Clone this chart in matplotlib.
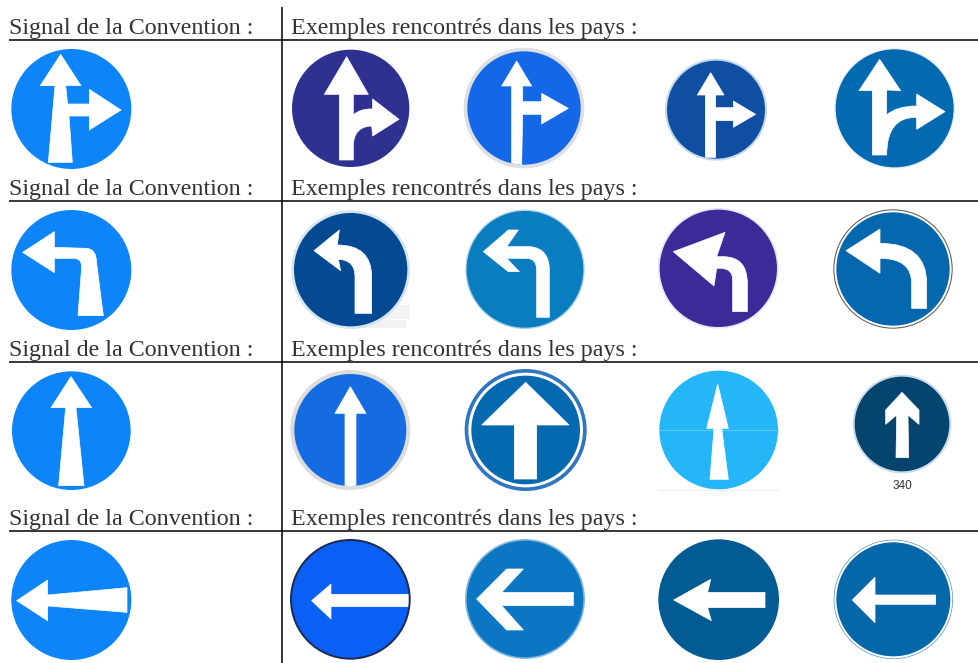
import matplotlib
matplotlib.use("Agg")
import matplotlib.pyplot as plt
from matplotlib.patches import Circle, PathPatch, Rectangle
from matplotlib.path import Path

LEFT_LABEL = "Signal de la Convention :"
RIGHT_LABEL = "Exemples rencontrés dans les pays :"
LABEL_BASELINES = [34, 194.7, 355.7, 525]
RULES_Y = [40, 201, 362, 530.7]
DIVIDER_X = 282
CODE_LABEL = "340"

Z1 = (0, 0)
Z2 = (490, 0)
Z3 = (0, 335)
Z4 = (490, 335)

# origin, centre, radius, fill, (ring colour, ring radius), (gap radius), arrow outline
ROW1 = [
    (Z1, (214, 327), 180, "#0d84f8", None, None,
     [(182,163),(243,257),(197,257),(203,312),(268,312),(268,268),(363,330),(268,390),(268,348),(207,348),(217,487),(145,487),(165,257),(121,257)]),
    (Z1, (1052, 325), 176, "#2e3190", None, None,
     [(1040,170),(1105,283),(1060,283),(1060,345),(1080,325,1118,327),(1118,297),(1197,358),(1118,408),(1115,378),(1060,380,1060,440),(1060,480),(1018,480),(1018,283),(973,283)]),
    (Z2, (102, 324), 170, "#1468e8", ("#dfdfe3", 181), None,
     [(80,183),(125,258),(98,258),(98,305),(155,305),(155,280),(235,325),(155,372),(155,343),(98,343),(95,495),(65,495),(65,258),(35,258)]),
    (Z2, (678, 329), 147, "#0f4ea0", ("#c4d8ee", 153), None,
     [(662,218),(702,285),(677,285),(677,323),(730,323),(730,303),(797,343),(730,382),(730,362),(677,362),(677,472),(646,472),(646,285),(622,285)]),
    (Z2, (1214, 325), 177, "#0369b0", ("#e6eef6", 181), None,
     [(1169,178),(1232,272),(1190,270),(1190,345),(1220,318,1280,318),(1280,282),(1365,335),(1280,388),(1280,352),(1190,350,1190,465),(1147,465),(1147,272),(1107,272)]),
]
ROW2 = [
    (Z1, (214, 810), 180, "#0d84f8", None, None,
     [(68,757),(163,695),(163,742),(260,745),(290,748,290,790),(310,947),(234,947),(245,800),(245,775,220,775),(163,775),(163,818)]),
    (Z1, (1052, 809), 170, "#034a92", ("#d6e4f2", 178), None,
     [(942,752),(1018,690),(1012,735),(1115,735,1115,830),(1115,940),(1065,940),(1065,830),(1065,780,1015,778),(1022,812)]),
    (Z2, (105, 808), 175, "#0a7cc0", ("#a8cfe6", 179), None,
     [(-20,755),(55,690),(85,690),(50,740),(120,740),(178,745,178,810),(178,952),(140,952),(140,810),(140,775,110,775),(50,775),(88,815),(55,815)]),
    (Z2, (685, 805), 176, "#3c2a98", ("#e6e4f6", 181), None,
     [(550,755),(705,697),(680,770),(700,770),(772,770,772,850),(772,935),(728,935),(728,840),(728,805,690,805),(680,805),(672,858)]),
    (Z2, (1209, 807), 170, "#0567ae", ("#555555", 179), 176,
     [(1068,752),(1170,687),(1170,730),(1310,730,1310,850),(1310,925),(1265,925),(1265,850),(1265,775,1170,775),(1170,820)]),
]
ROW3 = [
    (Z3, (214, 287), 178, "#0d84f8", None, None,
     [(213,125),(275,218),(228,218),(252,452),(176,452),(197,218),(153,218)]),
    (Z3, (1051, 285), 168, "#146ce0", ("#dcdcdc", 180), None,
     [(1051,155),(1098,235),(1068,235),(1068,460),(1035,460),(1035,235),(1005,235)]),
    (Z4, (107, 285), 163, "#0469ae", ("#2f75c0", 183), 172,
     [(107,142),(237,270),(140,270),(140,432),(73,432),(73,270),(-25,270)]),
    (Z4, (686, 285), 178, "#24b6f8", None, None,
     [(683,147),(715,280),(695,280),(715,433),(660,433),(672,280),(650,280)]),
    (Z4, (1236, 267), 142, "#04446f", ("#c8dcea", 148), None,
     [(1236,172),(1287,225),(1287,268),(1254,240),(1256,368),(1218,368),(1220,240),(1187,268),(1187,225)]),
]
ROW4 = [
    (Z3, (214, 795), 180, "#0d84f8", None, None,
     [(50,797),(143,735),(143,780),(381,758),(381,832),(143,813),(143,857)]),
    (Z3, (1051, 793), 175, "#0a5ff5", ("#1d2b52", 181), None,
     [(935,797),(993,747),(993,778),(1232,778),(1232,815),(993,815),(993,852)]),
    (Z4, (105, 792), 175, "#0a76c4", ("#86b8d8", 180), None,
     [(-40,792),(50,702),(100,702),(35,772),(250,772),(250,812),(35,812),(100,885),(50,885)]),
    (Z4, (686, 794), 181, "#025b92", None, None,
     [(551,795),(662,733),(653,772),(825,772),(825,818),(653,818),(664,857)]),
    (Z4, (1210, 793), 171, "#0467aa", ("#4a90c8", 179), 177,
     [(1087,795),(1155,727),(1155,780),(1337,780),(1337,808),(1155,808),(1155,863)]),
]

fig = plt.figure(figsize=(9.79, 6.63), dpi=100, facecolor="white")
ax = fig.add_axes([0, 0, 1, 1])
ax.set_xlim(0, 979)
ax.set_ylim(663, 0)
ax.axis("off")


def px(origin, x, y):
    return origin[0] + x / 3, origin[1] + y / 3


def outline(origin, pts):
    verts, codes = [], []
    for i, p in enumerate(pts):
        if len(p) == 2:
            verts.append(px(origin, *p))
            codes.append(Path.MOVETO if i == 0 else Path.LINETO)
        else:
            verts += [px(origin, p[0], p[1]), px(origin, p[2], p[3])]
            codes += [Path.CURVE3, Path.CURVE3]
    verts.append(verts[0])
    codes.append(Path.CLOSEPOLY)
    return Path(verts, codes)


def draw_sign(origin, centre, radius, fill, ring, gap, pts):
    c = px(origin, *centre)
    if ring:
        ax.add_patch(Circle(c, ring[1] / 3, fc=ring[0], ec="none"))
    if gap:
        ax.add_patch(Circle(c, gap / 3, fc="white", ec="none"))
    disc = Circle(c, radius / 3, fc=fill, ec="none")
    ax.add_patch(disc)
    arrow = PathPatch(outline(origin, pts), fc="white", ec="white", lw=0.5, joinstyle="round", zorder=3)
    ax.add_patch(arrow)
    if gap is None:
        arrow.set_clip_path(disc)


for row in (ROW1, ROW2, ROW3, ROW4):
    for sign in row:
        draw_sign(*sign)

# faint watermark under the second sign of row 2, and scan lines of the pale sign
ax.add_patch(Rectangle((349, 305), 61, 14, fc="#e8ebee", ec="none", alpha=0.6, zorder=0.5))
ax.add_patch(Rectangle((360, 320), 46, 8, fc="#f1f2f3", ec="none", zorder=0.5))
ax.plot([660, 778], [430, 430], color="#5ccaf9", lw=0.8, zorder=2)
ax.plot([658, 779], [490, 490], color="#eef0f2", lw=1, zorder=2)

for b in LABEL_BASELINES:
    ax.text(9.3, b, LEFT_LABEL, family="Liberation Serif", fontsize=17.3, color="#333333", va="baseline", ha="left")
    ax.text(290.7, b, RIGHT_LABEL, family="Liberation Serif", fontsize=17.3, color="#333333", va="baseline", ha="left")
for y in RULES_Y:
    ax.plot([9, 979], [y, y], color="black", lw=1.1, solid_capstyle="butt")
ax.plot([DIVIDER_X, DIVIDER_X], [7, 663], color="black", lw=1.1, solid_capstyle="butt")

cx, cy = px(Z4, 1236, 452)
ax.text(cx, cy, CODE_LABEL, family="Liberation Sans", fontsize=8.5, color="#333333", ha="center", va="center")

fig.savefig("out.png", dpi=100, facecolor="white")
